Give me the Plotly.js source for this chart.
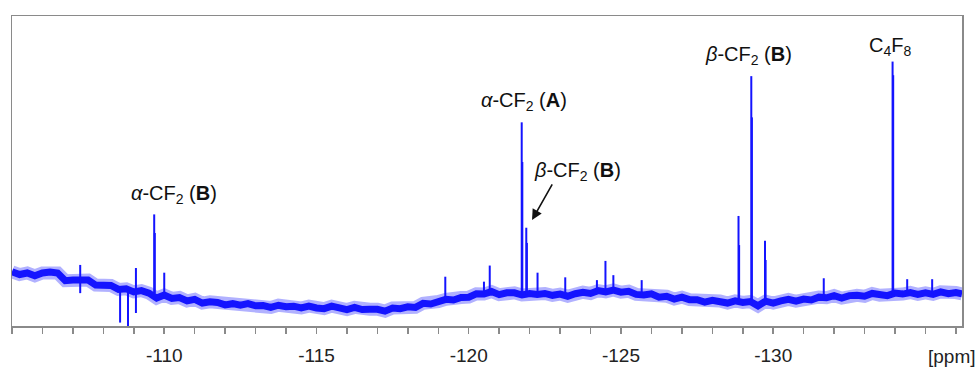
<!DOCTYPE html>
<html>
<head>
<meta charset="utf-8">
<script src="https://cdn.plot.ly/plotly-3.0.1.min.js"></script>
<style>html,body{margin:0;padding:0;background:#fff;}#chart{width:979px;height:369px;}</style>
</head>
<body>
<div id="chart"></div>
<script>
// Baseline (noisy band) of the 19F NMR spectrum, ppm vs relative intensity
const basePpm = [-105.00,-105.25,-105.50,-105.75,-106.00,-106.25,-106.50,-106.75,-107.00,-107.25,-107.50,-107.75,
  -108.00,-108.25,-108.50,-108.75,-109.00,-109.25,-109.50,-109.75,-110.00,-110.25,-110.50,-110.75,
  -111.00,-111.25,-111.50,-111.75,-112.00,-112.25,-112.50,-112.75,-113.00,-113.25,-113.50,-113.75,
  -114.00,-114.25,-114.50,-114.75,-115.00,-115.25,-115.50,-115.75,-116.00,-116.25,-116.50,-116.75,
  -117.00,-117.25,-117.50,-117.75,-118.00,-118.25,-118.50,-118.75,-119.00,-119.25,-119.50,-119.75,
  -120.00,-120.25,-120.50,-120.75,-121.00,-121.25,-121.50,-121.75,-122.00,-122.25,-122.50,-122.75,
  -123.00,-123.25,-123.50,-123.75,-124.00,-124.25,-124.50,-124.75,-125.00,-125.25,-125.50,-125.75,
  -126.00,-126.25,-126.50,-126.75,-127.00,-127.25,-127.50,-127.75,-128.00,-128.25,-128.50,-128.75,
  -129.00,-129.25,-129.50,-129.75,-130.00,-130.25,-130.50,-130.75,-131.00,-131.25,-131.50,-131.75,
  -132.00,-132.25,-132.50,-132.75,-133.00,-133.25,-133.50,-133.75,-134.00,-134.25,-134.50,-134.75,
  -135.00,-135.25,-135.50,-135.75,-136.00,-136.20];
const baseInt = [17.5,16.6,17.1,16.2,17.1,17.4,17.1,14.6,14.8,14.7,14.8,13.2,
  13.2,13.1,11.8,12.0,11.0,11.4,10.6,9.0,10.0,8.9,9.2,8.1,
  8.6,7.4,7.8,7.6,6.8,7.2,6.7,7.2,6.5,6.6,6.0,6.7,
  6.2,6.4,5.8,6.4,5.8,5.6,6.4,6.0,5.3,6.0,5.3,5.4,
  5.4,4.8,5.8,5.6,6.2,6.0,7.3,7.1,7.9,8.6,8.4,9.2,
  9.3,10.4,10.3,11.1,10.1,10.7,10.7,10.0,10.5,10.2,10.5,9.9,
  10.3,9.6,10.4,10.9,10.5,11.4,11.0,11.6,10.9,11.2,10.2,10.0,
  10.4,9.3,9.6,8.7,9.3,8.5,8.5,7.7,8.3,8.1,7.4,8.1,
  7.6,7.9,6.5,8.0,7.4,8.1,8.6,8.0,8.7,8.4,9.3,9.1,
  9.8,9.0,9.8,9.9,9.6,10.5,9.9,9.8,10.6,10.3,10.8,10.2,
  10.7,10.2,11.0,10.4,10.8,10.4];

// Sharp resonances: position, lower end and upper end of each spike
const peakPpm  = [-107.24,-108.55,-108.81,-109.07,-109.67,-109.69,-110.00,-119.23,-120.50,-120.69,
  -121.74,-121.76,-121.89,-121.91,-122.26,-123.17,-124.21,-124.49,-124.75,-125.68,
  -128.86,-128.88,-129.28,-129.30,-129.73,-129.75,-131.66,-133.92,-133.94,-134.40,-135.22];
const peakLow  = [10.6,1.1,0.0,4.2,10.5,10.5,9.5,8.0,10.5,10.5,
  10.2,10.2,10.2,10.2,10.0,10.0,11.0,11.5,11.0,10.0,
  7.8,7.8,7.0,7.0,7.5,7.5,9.0,10.0,10.0,10.4,10.5];
const peakTop  = [19.7,12.0,11.5,18.7,36.0,30.0,17.2,15.9,14.3,19.5,
  65.7,52.9,31.7,26.8,17.2,15.7,14.8,21.0,16.4,14.8,
  35.5,26.1,80.6,67.3,27.5,21.3,15.4,85.3,80.9,15.1,15.1];

// Labels
const labelText = ['<i>α</i>-CF<sub>2</sub> (<b>B</b>)','<i>α</i>-CF<sub>2</sub> (<b>A</b>)',
  '<i>β</i>-CF<sub>2</sub> (<b>B</b>)','<i>β</i>-CF<sub>2</sub> (<b>B</b>)','C<sub>4</sub>F<sub>8</sub>'];
const labelPpm = [-110.33,-121.80,-123.58,-129.20,-133.83];
const labelInt = [42.3,72.4,49.8,87.4,90.1];

const tickVals = [-110,-115,-120,-125,-130];
const tickText = ['-110','-115','-120','-125','-130'];

// build spike segments
const sx = [], sy = [];
peakPpm.forEach((p,i)=>{ sx.push(p,p,null); sy.push(peakLow[i],peakTop[i],null); });

const blue = '#1414ff';
const traces = [
  {x: basePpm, y: baseInt, mode:'lines', line:{color:'rgba(50,50,255,0.38)', width:13}, hoverinfo:'skip'},
  {x: basePpm, y: baseInt, mode:'lines', line:{color:blue, width:7}, hoverinfo:'skip'},
  {x: sx, y: sy, mode:'lines', line:{color:blue, width:2}, connectgaps:false, hoverinfo:'skip'}
];

const annotations = labelText.map((t,i)=>({
  x: labelPpm[i], y: labelInt[i], xref:'x', yref:'y', text:t, showarrow:false,
  xanchor:'center', yanchor:'middle', font:{family:'Liberation Sans, Arial, sans-serif', size:20, color:'#111'}
}));
annotations.push({x:-122.08, y:34.2, xref:'x', yref:'y', text:'', showarrow:true,
  ax:21, ay:-37, arrowhead:2, arrowsize:1.3, arrowwidth:1.6, arrowcolor:'#111'});
annotations.push({x:0.989, y:-0.097, xref:'paper', yref:'paper', text:'[ppm]', showarrow:false,
  xanchor:'center', yanchor:'middle', font:{family:'Liberation Sans, Arial, sans-serif', size:19, color:'#222'}});

const layout = {
  width:979, height:369,
  margin:{l:12, r:17, t:16, b:43},
  paper_bgcolor:'#fff', plot_bgcolor:'#fff',
  showlegend:false,
  xaxis:{range:[-105,-136.2], tickmode:'array', tickvals:tickVals, ticktext:tickText,
    ticks:'outside', ticklen:6, tickwidth:1.5, tickcolor:'#8a8a8a', ticklabelstandoff:6,
    minor:{tickmode:'linear', tick0:0, dtick:1, ticks:'outside', ticklen:6, tickwidth:1.5, tickcolor:'#8a8a8a'},
    showline:true, linecolor:'#8a8a8a', linewidth:1.5, mirror:true,
    showgrid:false, zeroline:false,
    tickfont:{family:'Liberation Sans, Arial, sans-serif', size:19, color:'#222'}},
  yaxis:{range:[0,100], showticklabels:false, ticks:'', showgrid:false, zeroline:false,
    showline:true, linecolor:'#8a8a8a', linewidth:1.5, mirror:true},
  annotations: annotations
};
Plotly.newPlot('chart', traces, layout, {staticPlot:true});
</script>
</body>
</html>
